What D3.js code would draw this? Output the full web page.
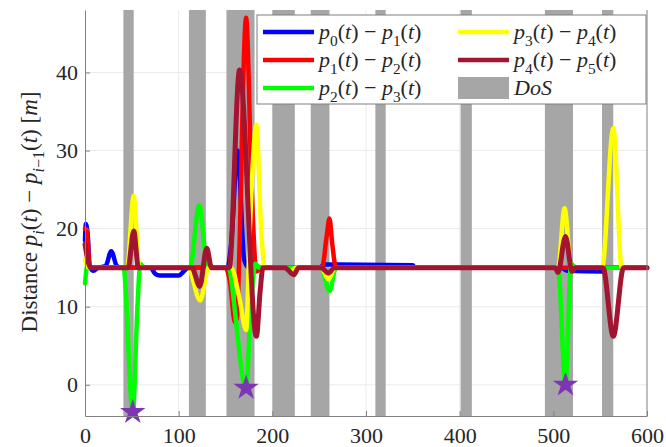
<!DOCTYPE html>
<html><head><meta charset="UTF-8">
<style>
    .preload { position: absolute; left: 0; top: 0; visibility: hidden; font-family: "Liberation Serif"; font-size: 22px; }
    svg text, svg tspan { font-family: "Liberation Serif", "Times New Roman", "Nimbus Roman"; }
</style>
<script src="https://d3js.org/d3.v7.min.js"></script>
</head>
<body style="margin:0">
<div class="preload">Distance 0123456789 <i>pt DoS</i></div>
<svg width="666" height="447" font-family="Liberation Serif"></svg>
<script>
    // ---- data ----
    const xTicks = [0, 100, 200, 300, 400, 500, 600];
    const yTicks = [0, 10, 20, 30, 40];

    // DoS intervals [start, end]
    const dosIntervals = [[41, 52], [111, 129], [151, 181], [200, 224], [241, 261],
                          [310, 321], [401, 413], [491, 521], [552, 564]];

    // [t, distance] points for each pair
    const d01 = [[0, 18.5], [1, 20.6], [3, 19], [5, 15.2], [9, 14.6], [14, 15], [22, 15.2], [28, 17.1],
                 [34, 15.2], [38, 15], [70, 15], [75, 14.2], [80, 14], [100, 14], [106, 14.6], [110, 15],
                 [152, 15], [156, 18], [163, 30], [170, 16], [175, 15], [180, 15.8], [184, 15], [250, 15],
                 [256, 15.4], [350, 15.3], [352, 15], [508, 15], [515, 14.6], [553, 14.5], [556, 15], [600, 15]];
    const d12 = [[0, 20], [2, 19.8], [5, 15], [150, 15], [155, 13], [160, 8], [162, 8.5], [172, 47],
                 [178, 25], [183, 14.5], [188, 15], [253, 15], [258, 19], [261, 21.3], [264, 18], [268, 15],
                 [600, 15]];
    const d23 = [[0, 13], [3, 15.5], [6, 15], [41, 15], [51, -3.5], [56, 10], [59, 15.5], [63, 15],
                 [112, 15], [122, 23], [131, 15], [152, 15], [172, -0.4], [177, 10], [182, 15.5], [186, 15],
                 [252, 15], [261, 12], [268, 15], [505, 15], [513, 0], [519, 15.5], [524, 15], [600, 15]];
    const d34 = [[0, 16], [4, 15], [45, 15], [52, 24.2], [58, 15], [110, 15], [123, 10.8], [132, 15],
                 [156, 15], [165, 11], [172, 7], [176, 20], [183, 33.3], [188, 20], [192, 15], [213, 15],
                 [219, 14.5], [225, 15], [252, 15], [260, 13.5], [267, 15], [505, 15], [512, 22.6], [519, 15],
                 [552, 15], [564, 32.9], [573, 15], [600, 15]];
    const d45 = [[0, 18], [3, 16], [6, 15], [46, 15], [52, 19.7], [57, 15], [114, 15], [122.5, 12.6],
                 [130, 17.5], [135, 15], [154, 15], [165, 40.3], [183, 6.2], [187, 12], [190, 15], [213, 15],
                 [223, 14.1], [228, 15], [252, 15], [260, 14.3], [266, 15], [502, 15], [505, 14.4], [513, 19],
                 [520, 14.5], [523, 15], [553, 15], [564, 6.2], [575, 15], [600, 15]];

    const seriesData = [d01, d12, d23, d34, d45];
    const seriesLabels = ["p_0(t) - p_1(t)", "p_1(t) - p_2(t)", "p_2(t) - p_3(t)",
                          "p_3(t) - p_4(t)", "p_4(t) - p_5(t)"];
    const seriesColors = ["#0000ff", "#ff0000", "#00ff00", "#ffff00", "#a2142f"];

    // collision markers
    const stars = [[51, -3.5], [172, -0.4], [513, 0]];

    // ---- layout ----
    const svg = d3.select("svg");
    const x = d3.scaleLinear().domain([0, 600]).range([85, 647]);
    const y = d3.scaleLinear().domain([-4, 48]).range([416, 10]);
    const fs = 22;
    const fontName = "Liberation Serif";

    // write a small latex-like string as tspans (letters italic, _x subscripts)
    function tex(sel, s, size) {
        const re = /_\{([^}]*)\}|_(.)|([A-Za-z]+)|([^A-Za-z_]+)/g;
        const sh = size * 0.3;
        let m, shifted = false;
        while ((m = re.exec(s))) {
            const sub = m[1] !== undefined ? m[1] : m[2];
            if (sub !== undefined) {
                const parts = sub.match(/[A-Za-z]+|[^A-Za-z]+/g);
                parts.forEach((p, i) => {
                    sel.append("tspan")
                        .attr("font-size", size * 0.7)
                        .attr("dy", (!shifted && i == 0) ? sh : 0)
                        .attr("font-style", /[A-Za-z]/.test(p) ? "italic" : "normal")
                        .text(p.replace("-", "\u2212"));
                    shifted = true;
                });
            } else {
                const isLetter = m[3] !== undefined;
                sel.append("tspan")
                    .attr("dy", shifted ? -sh : 0)
                    .attr("font-style", isLetter ? "italic" : "normal")
                    .text(isLetter ? m[3] : m[4].replace(" - ", "\u00a0\u2212\u00a0").replace(" ", "\u00a0"));
                shifted = false;
            }
        }
    }

    // grid
    svg.append("g").selectAll("line").data(yTicks).join("line")
        .attr("x1", x(0)).attr("x2", x(600))
        .attr("y1", d => y(d)).attr("y2", d => y(d))
        .attr("stroke", "#ebebeb").attr("stroke-width", 1);
    svg.append("g").selectAll("line").data(xTicks.slice(1, -1)).join("line")
        .attr("x1", d => x(d)).attr("x2", d => x(d))
        .attr("y1", y(-4)).attr("y2", y(48))
        .attr("stroke", "#ebebeb").attr("stroke-width", 1);

    // DoS bands
    svg.append("g").selectAll("rect").data(dosIntervals).join("rect")
        .attr("x", d => x(d[0])).attr("width", d => x(d[1]) - x(d[0]))
        .attr("y", y(48)).attr("height", y(-4) - y(48))
        .attr("fill", "#a6a6a6");

    // distance lines
    const line = d3.line()
        .x(d => x(d[0])).y(d => y(d[1]))
        .curve(d3.curveMonotoneX);

    svg.append("g").selectAll("path").data(seriesData).join("path")
        .attr("d", line)
        .attr("fill", "none")
        .attr("stroke", (d, i) => seriesColors[i])
        .attr("stroke-width", (d, i) => i == 4 ? 5 : 4.5)
        .attr("stroke-linejoin", "round")
        .attr("stroke-linecap", "round");

    // stars
    svg.append("g").selectAll("path").data(stars).join("path")
        .attr("transform", d => `translate(${x(d[0])},${y(d[1])})`)
        .attr("d", d3.symbol(d3.symbolStar, 200))
        .attr("fill", "#7d35b3");

    // axes
    const xAxis = svg.append("g")
        .attr("transform", `translate(0,${y(-4)})`)
        .call(d3.axisBottom(x).tickValues(xTicks).tickSizeInner(-5).tickSizeOuter(0).tickPadding(11));
    const yAxis = svg.append("g")
        .attr("transform", `translate(${x(0)},0)`)
        .call(d3.axisLeft(y).tickValues(yTicks).tickSizeInner(-5).tickSizeOuter(0).tickPadding(7));
    [xAxis, yAxis].forEach(a => {
        a.attr("font-family", fontName);
        a.select(".domain").attr("stroke", "#808080");
        a.selectAll(".tick line").attr("stroke", "#808080");
        a.selectAll("text").attr("font-size", fs).attr("fill", "#262626")
            .attr("font-family", fontName);
    });
    svg.append("line")
        .attr("x1", x(600)).attr("x2", x(600)).attr("y1", y(-4)).attr("y2", y(48))
        .attr("stroke", "#808080");

    // y label
    const yl = svg.append("text")
        .attr("transform", "translate(37,212) rotate(-90)")
        .attr("text-anchor", "middle")
        .attr("font-family", fontName)
        .attr("font-size", 23).attr("fill", "#262626");
    yl.append("tspan").text("Distance\u00a0");
    tex(yl, "p_i(t) - p_{i-1}(t) [m]", 23);

    // legend
    const lg = svg.append("g");
    lg.append("rect").attr("x", 257).attr("y", 15).attr("width", 389).attr("height", 89)
        .attr("fill", "#fff").attr("stroke", "#7f7f7f");
    const entries = seriesLabels.map((s, i) => ({ label: s, color: seriesColors[i] }))
        .concat([{ label: "DoS", color: "#a6a6a6", patch: true }]);
    const colX = [263, 458], rowY = [32, 60, 88];
    entries.forEach((e, k) => {
        const cx = colX[Math.floor(k / 3)], cy = rowY[k % 3];
        if (e.patch) {
            lg.append("rect").attr("x", cx).attr("y", cy - 11).attr("width", 51).attr("height", 22)
                .attr("fill", e.color);
        } else {
            lg.append("line").attr("x1", cx).attr("x2", cx + 51).attr("y1", cy).attr("y2", cy)
                .attr("stroke", e.color).attr("stroke-width", 4.5);
        }
        const t = lg.append("text").attr("x", cx + 56).attr("y", cy + 7)
            .attr("font-family", fontName)
            .attr("font-size", fs).attr("fill", "#262626");
        tex(t, e.label, fs);
    });
</script>
</body>
</html>
